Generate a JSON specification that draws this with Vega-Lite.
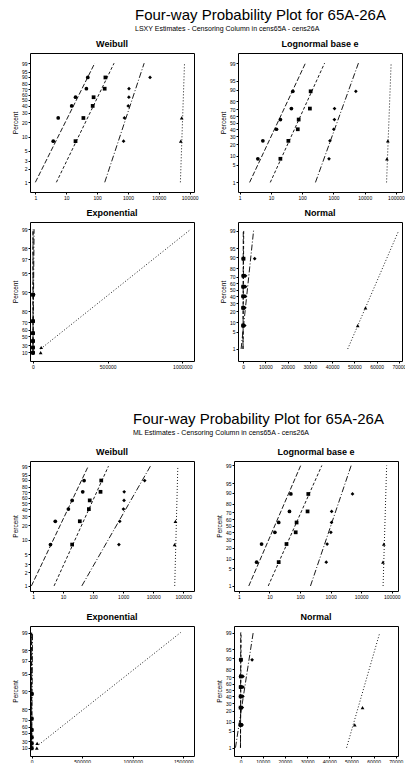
{
"$schema":"https://vega.github.io/schema/vega-lite/v6.json",
"padding":{"left":11,"top":7,"right":0,"bottom":0},
"background":"white",
"datasets":{
"pts":[
{"series":"A","t":3.8,"pct":8},{"series":"A","t":5.5,"pct":24},{"series":"A","t":15,"pct":40},{"series":"A","t":20,"pct":55},{"series":"A","t":45,"pct":71},{"series":"A","t":50,"pct":89},
{"series":"B","t":20,"pct":8},{"series":"B","t":36,"pct":24},{"series":"B","t":72,"pct":40},{"series":"B","t":77,"pct":55},{"series":"B","t":176,"pct":71},{"series":"B","t":186,"pct":89},
{"series":"C","t":720,"pct":8},{"series":"C","t":770,"pct":24},{"series":"C","t":1020,"pct":40},{"series":"C","t":1070,"pct":55},{"series":"C","t":1080,"pct":71},{"series":"C","t":5200,"pct":89},
{"series":"D","t":51500,"pct":8},{"series":"D","t":55000,"pct":24}
],
"fit":[
{"block":"LSXY","dist":"Weibull","series":"A","pct":1,"t":1.0},{"block":"LSXY","dist":"Weibull","series":"A","pct":99,"t":84},
{"block":"LSXY","dist":"Weibull","series":"B","pct":1,"t":4.8},{"block":"LSXY","dist":"Weibull","series":"B","pct":99,"t":355},
{"block":"LSXY","dist":"Weibull","series":"C","pct":1,"t":177},{"block":"LSXY","dist":"Weibull","series":"C","pct":99,"t":3350},
{"block":"LSXY","dist":"Weibull","series":"D","pct":1,"t":50000},{"block":"LSXY","dist":"Weibull","series":"D","pct":99,"t":68000},
{"block":"LSXY","dist":"Lognormal","series":"A","pct":1,"t":2.07},{"block":"LSXY","dist":"Lognormal","series":"A","pct":99,"t":127},
{"block":"LSXY","dist":"Lognormal","series":"B","pct":1,"t":9.5},{"block":"LSXY","dist":"Lognormal","series":"B","pct":99,"t":520},
{"block":"LSXY","dist":"Lognormal","series":"C","pct":1,"t":265},{"block":"LSXY","dist":"Lognormal","series":"C","pct":99,"t":6300},
{"block":"LSXY","dist":"Lognormal","series":"D","pct":1,"t":50000},{"block":"LSXY","dist":"Lognormal","series":"D","pct":99,"t":70000},
{"block":"LSXY","dist":"Exponential","series":"A","pct":1,"t":0.2},{"block":"LSXY","dist":"Exponential","series":"A","pct":99,"t":101},
{"block":"LSXY","dist":"Exponential","series":"B","pct":1,"t":0.9},{"block":"LSXY","dist":"Exponential","series":"B","pct":99,"t":414},
{"block":"LSXY","dist":"Exponential","series":"C","pct":1,"t":16},{"block":"LSXY","dist":"Exponential","series":"C","pct":99,"t":7370},
{"block":"LSXY","dist":"Exponential","series":"D","pct":20,"t":51200},{"block":"LSXY","dist":"Exponential","series":"D","pct":99,"t":1057000},
{"block":"LSXY","dist":"Normal","series":"A","pct":1,"t":-20},{"block":"LSXY","dist":"Normal","series":"A","pct":99,"t":68},
{"block":"LSXY","dist":"Normal","series":"B","pct":1,"t":-68},{"block":"LSXY","dist":"Normal","series":"B","pct":99,"t":258},
{"block":"LSXY","dist":"Normal","series":"C","pct":1,"t":-900},{"block":"LSXY","dist":"Normal","series":"C","pct":99,"t":4700},
{"block":"LSXY","dist":"Normal","series":"D","pct":1,"t":47000},{"block":"LSXY","dist":"Normal","series":"D","pct":99,"t":69900},
{"block":"ML","dist":"Weibull","series":"A","pct":1,"t":0.88},{"block":"ML","dist":"Weibull","series":"A","pct":99,"t":69},
{"block":"ML","dist":"Weibull","series":"B","pct":1,"t":5.0},{"block":"ML","dist":"Weibull","series":"B","pct":99,"t":324},
{"block":"ML","dist":"Weibull","series":"C","pct":1,"t":42},{"block":"ML","dist":"Weibull","series":"C","pct":99,"t":8060},
{"block":"ML","dist":"Weibull","series":"D","pct":1,"t":52000},{"block":"ML","dist":"Weibull","series":"D","pct":99,"t":66000},
{"block":"ML","dist":"Lognormal","series":"A","pct":1,"t":2.1},{"block":"ML","dist":"Lognormal","series":"A","pct":99,"t":105},
{"block":"ML","dist":"Lognormal","series":"B","pct":1,"t":9.1},{"block":"ML","dist":"Lognormal","series":"B","pct":99,"t":516},
{"block":"ML","dist":"Lognormal","series":"C","pct":1,"t":219},{"block":"ML","dist":"Lognormal","series":"C","pct":99,"t":4700},
{"block":"ML","dist":"Lognormal","series":"D","pct":1,"t":52000},{"block":"ML","dist":"Lognormal","series":"D","pct":99,"t":68000},
{"block":"ML","dist":"Exponential","series":"A","pct":1,"t":0.25},{"block":"ML","dist":"Exponential","series":"A","pct":99,"t":115},
{"block":"ML","dist":"Exponential","series":"B","pct":1,"t":1},{"block":"ML","dist":"Exponential","series":"B","pct":99,"t":460},
{"block":"ML","dist":"Exponential","series":"C","pct":1,"t":20},{"block":"ML","dist":"Exponential","series":"C","pct":99,"t":9200},
{"block":"ML","dist":"Exponential","series":"D","pct":20,"t":71400},{"block":"ML","dist":"Exponential","series":"D","pct":99,"t":1473600},
{"block":"ML","dist":"Normal","series":"A","pct":1,"t":-16},{"block":"ML","dist":"Normal","series":"A","pct":99,"t":64},
{"block":"ML","dist":"Normal","series":"B","pct":1,"t":-50},{"block":"ML","dist":"Normal","series":"B","pct":99,"t":240},
{"block":"ML","dist":"Normal","series":"C","pct":1,"t":-2300},{"block":"ML","dist":"Normal","series":"C","pct":99,"t":5700},
{"block":"ML","dist":"Normal","series":"D","pct":1,"t":47800},{"block":"ML","dist":"Normal","series":"D","pct":99,"t":62800}
]
},
"vconcat":[
{
"title":{"text":"Four-way Probability Plot for 65A-26A","subtitle":"LSXY Estimates - Censoring Column in cens65A - cens26A","anchor":"start","frame":"group","dx":105,"fontSize":15,"fontWeight":"normal","subtitleFontSize":7,"subtitlePadding":2,"offset":8,"color":"black","subtitleColor":"black"},
"columns":2,"bounds":"flush","spacing":{"row":30,"column":44},
"concat":[
{"width":164,"height":139,"title":{"text":"Weibull"},
"encoding":{"x":{"field":"t","type":"quantitative","scale":{"type":"log","domain":[0.67,138000],"nice":false},"axis":{"title":null,"values":[1,10,100,1000,10000,100000],"format":"d"}},
"y":{"field":"y","type":"quantitative","scale":{"domain":[-5.1,2.05],"nice":false,"zero":false},"axis":{"title":"Percent","values":[-4.60015,-3.90194,-3.49137,-2.9702,-2.25037,-1.49994,-1.03093,-0.67173,-0.36651,-0.08742,0.18563,0.47588,0.83403,1.09719,1.52718],"labelExpr":"''+round((1-exp(-exp(datum.value)))*100)"}}},
"layer":[
{"data":{"name":"fit"},"transform":[{"filter":"datum.block==='LSXY' && datum.dist==='Weibull'"},{"calculate":"log(-log(1-datum.pct/100))","as":"y"}],"mark":{"type":"line","clip":true},"encoding":{"strokeDash":{"field":"series","type":"nominal","scale":{"domain":["A","B","C","D"],"range":[[5,2],[3,2],[6,2,1,2],[1,2]]},"legend":null},"order":{"field":"pct","type":"quantitative"}}},
{"data":{"name":"pts"},"transform":[{"calculate":"log(-log(1-datum.pct/100))","as":"y"}],"mark":{"type":"point","clip":true},"encoding":{"shape":{"field":"series","type":"nominal","scale":{"domain":["A","B","C","D"],"range":["circle","square","diamond","triangle-up"]},"legend":null}}}
]},
{"width":164,"height":139,"title":{"text":"Lognormal base e"},
"encoding":{"x":{"field":"t","type":"quantitative","scale":{"type":"log","domain":[0.88,156000],"nice":false},"axis":{"title":null,"values":[1,10,100,1000,10000,100000],"format":"d"}},
"y":{"field":"y","type":"quantitative","scale":{"domain":[-2.7,2.72],"nice":false,"zero":false},"axis":{"title":"Percent","values":[-2.32635,-1.64485,-1.28155,-0.84162,-0.5244,-0.25335,0,0.25335,0.5244,0.84162,1.28155,1.64485,2.32635],"labelExpr":"''+round(cumulativeNormal(datum.value)*100)"}}},
"layer":[
{"data":{"name":"fit"},"transform":[{"filter":"datum.block==='LSXY' && datum.dist==='Lognormal'"},{"calculate":"quantileNormal(datum.pct/100)","as":"y"}],"mark":{"type":"line","clip":true},"encoding":{"strokeDash":{"field":"series","type":"nominal","scale":{"domain":["A","B","C","D"],"range":[[5,2],[3,2],[6,2,1,2],[1,2]]},"legend":null},"order":{"field":"pct","type":"quantitative"}}},
{"data":{"name":"pts"},"transform":[{"calculate":"quantileNormal(datum.pct/100)","as":"y"}],"mark":{"type":"point","clip":true},"encoding":{"shape":{"field":"series","type":"nominal","scale":{"domain":["A","B","C","D"],"range":["circle","square","diamond","triangle-up"]},"legend":null}}}
]},
{"width":164,"height":139,"title":{"text":"Exponential"},
"encoding":{"x":{"field":"t","type":"quantitative","scale":{"domain":[-20000,1078000],"nice":false,"zero":false},"axis":{"title":null,"values":[0,500000,1000000],"format":"d"}},
"y":{"field":"y","type":"quantitative","scale":{"domain":[-0.22,4.87],"nice":false,"zero":false},"axis":{"title":"Percent","labelOverlap":false,"values":[0.10536,0.35667,0.69315,0.91629,1.20397,1.60944,2.30259,2.99573,3.50656,3.91202,4.60517],"labelExpr":"''+round((1-exp(-datum.value))*100)"}}},
"layer":[
{"data":{"name":"fit"},"transform":[{"filter":"datum.block==='LSXY' && datum.dist==='Exponential'"},{"calculate":"-log(1-datum.pct/100)","as":"y"}],"mark":{"type":"line","clip":true},"encoding":{"strokeDash":{"field":"series","type":"nominal","scale":{"domain":["A","B","C","D"],"range":[[5,2],[3,2],[6,2,1,2],[1,2]]},"legend":null},"order":{"field":"pct","type":"quantitative"}}},
{"data":{"name":"pts"},"transform":[{"calculate":"-log(1-datum.pct/100)","as":"y"}],"mark":{"type":"point","clip":true},"encoding":{"shape":{"field":"series","type":"nominal","scale":{"domain":["A","B","C","D"],"range":["circle","square","diamond","triangle-up"]},"legend":null}}}
]},
{"width":164,"height":139,"title":{"text":"Normal"},
"encoding":{"x":{"field":"t","type":"quantitative","scale":{"domain":[-2300,71400],"nice":false,"zero":false},"axis":{"title":null,"values":[0,10000,20000,30000,40000,50000,60000,70000],"format":"d","labelOverlap":false}},
"y":{"field":"y","type":"quantitative","scale":{"domain":[-2.8,2.67],"nice":false,"zero":false},"axis":{"title":"Percent","values":[-2.32635,-1.64485,-1.28155,-0.84162,-0.5244,-0.25335,0,0.25335,0.5244,0.84162,1.28155,1.64485,2.32635],"labelExpr":"''+round(cumulativeNormal(datum.value)*100)"}}},
"layer":[
{"data":{"name":"fit"},"transform":[{"filter":"datum.block==='LSXY' && datum.dist==='Normal'"},{"calculate":"quantileNormal(datum.pct/100)","as":"y"}],"mark":{"type":"line","clip":true},"encoding":{"strokeDash":{"field":"series","type":"nominal","scale":{"domain":["A","B","C","D"],"range":[[5,2],[3,2],[6,2,1,2],[1,2]]},"legend":null},"order":{"field":"pct","type":"quantitative"}}},
{"data":{"name":"pts"},"transform":[{"calculate":"quantileNormal(datum.pct/100)","as":"y"}],"mark":{"type":"point","clip":true},"encoding":{"shape":{"field":"series","type":"nominal","scale":{"domain":["A","B","C","D"],"range":["circle","square","diamond","triangle-up"]},"legend":null}}}
]}
]
},
{
"title":{"text":"Four-way Probability Plot for 65A-26A","subtitle":"ML Estimates - Censoring Column in cens65A - cens26A","anchor":"start","frame":"group","dx":103,"fontSize":15,"fontWeight":"normal","subtitleFontSize":7,"subtitlePadding":2,"offset":12,"color":"black","subtitleColor":"black"},
"columns":2,"bounds":"flush","spacing":{"row":35,"column":40},
"concat":[
{"width":164,"height":130,"title":{"text":"Weibull"},
"encoding":{"x":{"field":"t","type":"quantitative","scale":{"type":"log","domain":[0.79,228000],"nice":false},"axis":{"title":null,"values":[1,10,100,1000,10000,100000],"format":"d"}},
"y":{"field":"y","type":"quantitative","scale":{"domain":[-4.86,1.79],"nice":false,"zero":false},"axis":{"title":"Percent","values":[-4.60015,-3.90194,-3.49137,-2.9702,-2.25037,-1.49994,-1.03093,-0.67173,-0.36651,-0.08742,0.18563,0.47588,0.83403,1.09719,1.52718],"labelExpr":"''+round((1-exp(-exp(datum.value)))*100)"}}},
"layer":[
{"data":{"name":"fit"},"transform":[{"filter":"datum.block==='ML' && datum.dist==='Weibull'"},{"calculate":"log(-log(1-datum.pct/100))","as":"y"}],"mark":{"type":"line","clip":true},"encoding":{"strokeDash":{"field":"series","type":"nominal","scale":{"domain":["A","B","C","D"],"range":[[5,2],[3,2],[6,2,1,2],[1,2]]},"legend":null},"order":{"field":"pct","type":"quantitative"}}},
{"data":{"name":"pts"},"transform":[{"calculate":"log(-log(1-datum.pct/100))","as":"y"}],"mark":{"type":"point","clip":true},"encoding":{"shape":{"field":"series","type":"nominal","scale":{"domain":["A","B","C","D"],"range":["circle","square","diamond","triangle-up"]},"legend":null}}}
]},
{"width":164,"height":130,"title":{"text":"Lognormal base e"},
"encoding":{"x":{"field":"t","type":"quantitative","scale":{"type":"log","domain":[0.69,160000],"nice":false},"axis":{"title":null,"values":[1,10,100,1000,10000,100000],"format":"d"}},
"y":{"field":"y","type":"quantitative","scale":{"domain":[-2.52,2.5],"nice":false,"zero":false},"axis":{"title":"Percent","values":[-2.32635,-1.64485,-1.28155,-0.84162,-0.5244,-0.25335,0,0.25335,0.5244,0.84162,1.28155,1.64485,2.32635],"labelExpr":"''+round(cumulativeNormal(datum.value)*100)"}}},
"layer":[
{"data":{"name":"fit"},"transform":[{"filter":"datum.block==='ML' && datum.dist==='Lognormal'"},{"calculate":"quantileNormal(datum.pct/100)","as":"y"}],"mark":{"type":"line","clip":true},"encoding":{"strokeDash":{"field":"series","type":"nominal","scale":{"domain":["A","B","C","D"],"range":[[5,2],[3,2],[6,2,1,2],[1,2]]},"legend":null},"order":{"field":"pct","type":"quantitative"}}},
{"data":{"name":"pts"},"transform":[{"calculate":"quantileNormal(datum.pct/100)","as":"y"}],"mark":{"type":"point","clip":true},"encoding":{"shape":{"field":"series","type":"nominal","scale":{"domain":["A","B","C","D"],"range":["circle","square","diamond","triangle-up"]},"legend":null}}}
]},
{"width":164,"height":130,"title":{"text":"Exponential"},
"encoding":{"x":{"field":"t","type":"quantitative","scale":{"domain":[-16000,1606000],"nice":false,"zero":false},"axis":{"title":null,"values":[0,500000,1000000,1500000],"format":"d"}},
"y":{"field":"y","type":"quantitative","scale":{"domain":[-0.22,4.86],"nice":false,"zero":false},"axis":{"title":"Percent","labelOverlap":false,"values":[0.10536,0.35667,0.69315,0.91629,1.20397,1.60944,2.30259,2.99573,3.50656,3.91202,4.60517],"labelExpr":"''+round((1-exp(-datum.value))*100)"}}},
"layer":[
{"data":{"name":"fit"},"transform":[{"filter":"datum.block==='ML' && datum.dist==='Exponential'"},{"calculate":"-log(1-datum.pct/100)","as":"y"}],"mark":{"type":"line","clip":true},"encoding":{"strokeDash":{"field":"series","type":"nominal","scale":{"domain":["A","B","C","D"],"range":[[5,2],[3,2],[6,2,1,2],[1,2]]},"legend":null},"order":{"field":"pct","type":"quantitative"}}},
{"data":{"name":"pts"},"transform":[{"calculate":"-log(1-datum.pct/100)","as":"y"}],"mark":{"type":"point","clip":true},"encoding":{"shape":{"field":"series","type":"nominal","scale":{"domain":["A","B","C","D"],"range":["circle","square","diamond","triangle-up"]},"legend":null}}}
]},
{"width":164,"height":130,"title":{"text":"Normal"},
"encoding":{"x":{"field":"t","type":"quantitative","scale":{"domain":[-2960,71000],"nice":false,"zero":false},"axis":{"title":null,"values":[0,10000,20000,30000,40000,50000,60000,70000],"format":"d","labelOverlap":false}},
"y":{"field":"y","type":"quantitative","scale":{"domain":[-2.66,2.59],"nice":false,"zero":false},"axis":{"title":"Percent","values":[-2.32635,-1.64485,-1.28155,-0.84162,-0.5244,-0.25335,0,0.25335,0.5244,0.84162,1.28155,1.64485,2.32635],"labelExpr":"''+round(cumulativeNormal(datum.value)*100)"}}},
"layer":[
{"data":{"name":"fit"},"transform":[{"filter":"datum.block==='ML' && datum.dist==='Normal'"},{"calculate":"quantileNormal(datum.pct/100)","as":"y"}],"mark":{"type":"line","clip":true},"encoding":{"strokeDash":{"field":"series","type":"nominal","scale":{"domain":["A","B","C","D"],"range":[[5,2],[3,2],[6,2,1,2],[1,2]]},"legend":null},"order":{"field":"pct","type":"quantitative"}}},
{"data":{"name":"pts"},"transform":[{"calculate":"quantileNormal(datum.pct/100)","as":"y"}],"mark":{"type":"point","clip":true},"encoding":{"shape":{"field":"series","type":"nominal","scale":{"domain":["A","B","C","D"],"range":["circle","square","diamond","triangle-up"]},"legend":null}}}
]}
]
}
],
"spacing":41,
"config":{
"font":"Liberation Sans",
"view":{"stroke":"black","strokeWidth":1},
"axis":{"grid":false,"domain":false,"tickSize":2,"tickColor":"black","labelFontSize":5,"labelColor":"black","labelPadding":1,"titleFontSize":6.5,"titleFontWeight":"normal","titleColor":"black","titlePadding":3},
"title":{"fontSize":9,"fontWeight":"bold","offset":0,"color":"black"},
"point":{"filled":true,"color":"black","size":14,"opacity":1},
"line":{"color":"black","strokeWidth":0.9}
}
}
